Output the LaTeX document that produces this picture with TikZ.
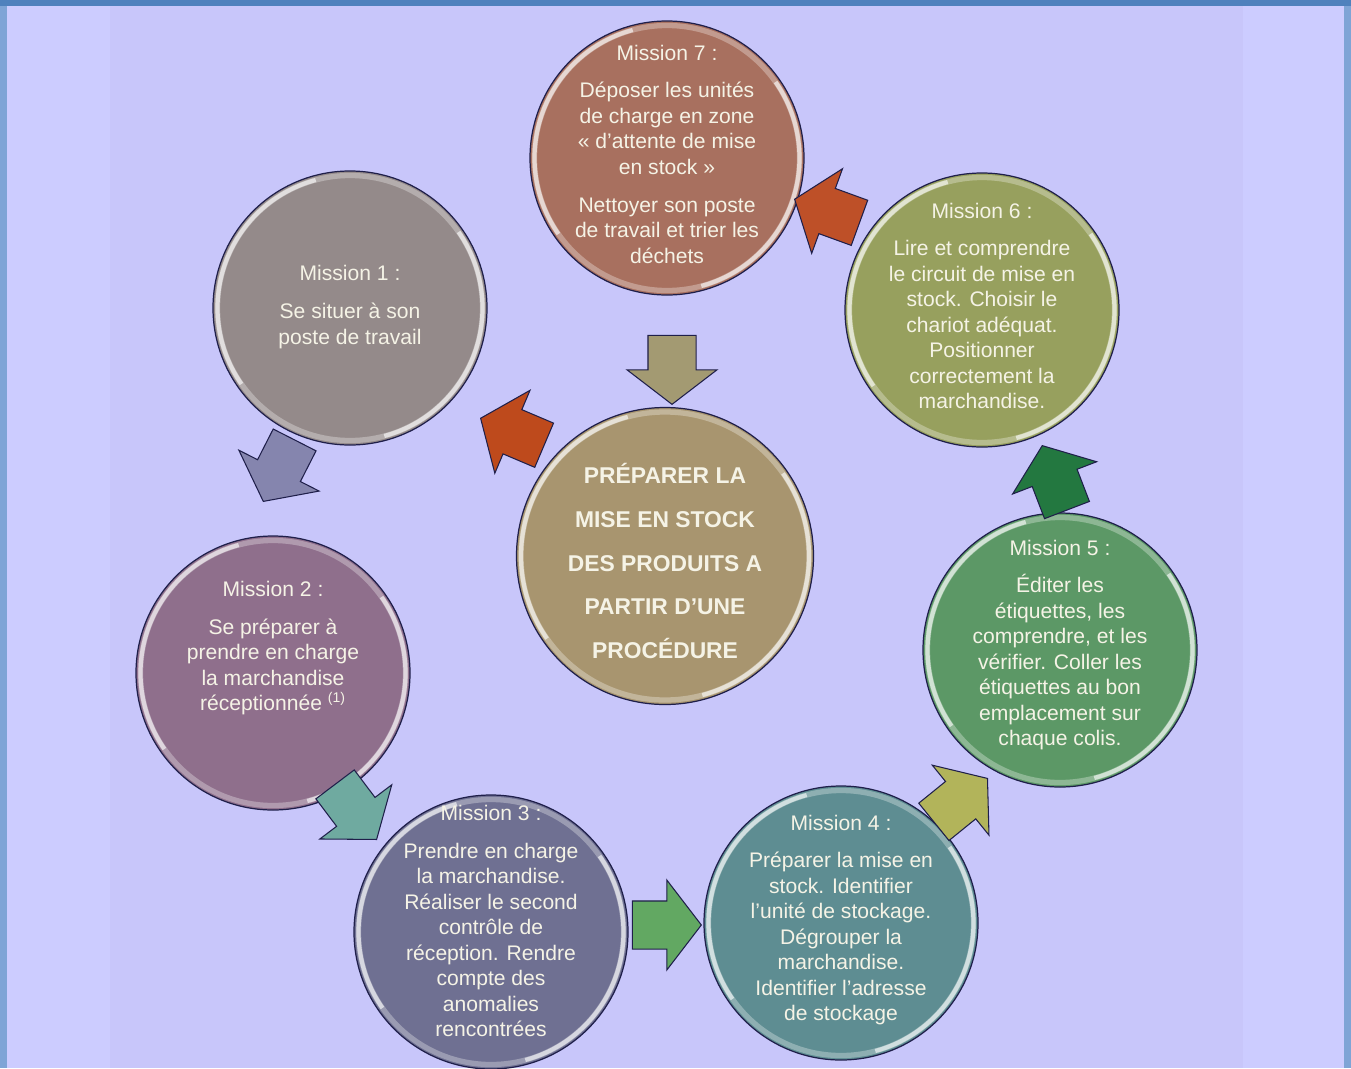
\documentclass[tikz,border=0pt]{standalone}
\usepackage{fontspec}
\setmainfont{Liberation Sans}
\usetikzlibrary{shapes.arrows}

\definecolor{bgout}{HTML}{CCCCFF}
\definecolor{bgin}{HTML}{C8C6FA}
\definecolor{frametop}{HTML}{4F81BD}
\definecolor{frameside}{HTML}{7FA4D6}
\definecolor{edge}{HTML}{1F1F4A}
\definecolor{txtcol}{HTML}{F5F3E6}
\definecolor{m1col}{HTML}{948A8A}
\definecolor{m2col}{HTML}{8F6F8C}
\definecolor{m3col}{HTML}{6F7092}
\definecolor{m4col}{HTML}{5E8D92}
\definecolor{m5col}{HTML}{5C9866}
\definecolor{m6col}{HTML}{97A05E}
\definecolor{m7col}{HTML}{A8705F}
\definecolor{ccol}{HTML}{A8956F}
\definecolor{a1col}{HTML}{8585AE}
\definecolor{a2col}{HTML}{6FAAA0}
\definecolor{a3col}{HTML}{62A862}
\definecolor{a4col}{HTML}{B2B45A}
\definecolor{a5col}{HTML}{237840}
\definecolor{a6col}{HTML}{BE5028}
\definecolor{a7col}{HTML}{A39A72}
\definecolor{a8col}{HTML}{BE4A1C}

\tikzset{
  disc/.style={circle, draw=edge, line width=0.7pt, minimum size=2*#1, inner sep=0pt,
    path picture={
      \draw[white, opacity=0.3, line width=3pt] (path picture bounding box.center) circle (#1-0.09cm);
      \draw[white, opacity=0.6, line width=2.4pt] (path picture bounding box.center) ++(105:#1-0.09cm) arc[start angle=105, end angle=215, radius=#1-0.09cm];
      \draw[white, opacity=0.6, line width=2.4pt] (path picture bounding box.center) ++(-75:#1-0.09cm) arc[start angle=-75, end angle=35, radius=#1-0.09cm];
    }},
  blockarr/.style={single arrow, draw=edge, line width=0.6pt, inner xsep=0pt, inner ysep=0.47cm,
    minimum height=1.38cm, single arrow head extend=0.42cm,
    single arrow tip angle=105, anchor=tip},
  mtext/.style={text=txtcol, align=center, inner sep=0pt, font=\fontsize{12}{14.5}\selectfont},
  ctext/.style={mtext, font=\fontsize{13}{25}\selectfont\bfseries},
}

\begin{document}
\begin{tikzpicture}
\def\rdisc{2.74cm} % radius of the mission circles

% Page background and frame
\useasboundingbox (0,0) rectangle (27.02,-21.36);
\clip (0,0) rectangle (27.02,-21.36);
\fill[bgout] (0,0) rectangle (27.02,-21.36);
\fill[bgin] (2.20,-0.12) rectangle (24.86,-21.36);
\fill[frameside] (0,0) rectangle (0.14,-21.36);
\fill[frameside] (26.88,0) rectangle (27.02,-21.36);
\fill[frametop] (0,0) rectangle (27.02,-0.12);

% Circles
\node[disc=\rdisc, fill=m7col] (m7) at (13.34, -3.16) {};
\node[disc=\rdisc, fill=m1col] (m1) at (7.00, -6.16) {};
\node[disc=\rdisc, fill=m6col] (m6) at (19.64, -6.20) {};
\node[disc=2.97cm, fill=ccol] (mc) at (13.30, -11.12) {};
\node[disc=\rdisc, fill=m2col] (m2) at (5.46, -13.46) {};
\node[disc=\rdisc, fill=m5col] (m5) at (21.20, -13.00) {};
\node[disc=\rdisc, fill=m3col] (m3) at (9.82, -18.64) {};
\node[disc=\rdisc, fill=m4col] (m4) at (16.82, -18.46) {};

% Texts
\node[mtext] (t7) at (13.34, -3.08) {Mission 7 :\\[7pt]D\'eposer les unit\'es\\de charge en zone\\« d’attente de  mise\\en stock  »\\[7pt]Nettoyer son poste\\de travail et trier les\\d\'echets};
\node[mtext] (t1) at (7.00, -6.14) {Mission 1 :\\[7pt]Se situer \`a son\\poste de travail};
\node[mtext] (t6) at (19.64, -6.12) {Mission 6 :\\[7pt]Lire  et comprendre\\le circuit de mise en\\stock.  Choisir le\\chariot ad\'equat.\\Positionner\\correctement la\\marchandise.};
\node[ctext] (tc) at (13.30, -11.22) {PR\'EPARER LA\\MISE EN STOCK\\DES PRODUITS  A\\PARTIR D’UNE\\PROC\'EDURE};
\node[mtext] (t2) at (5.46, -12.96) {Mission 2 :\\[7pt]Se pr\'eparer \`a\\prendre en charge\\la marchandise\\r\'eceptionn\'ee \textsuperscript{(1)}};
\node[mtext] (t5) at (21.20, -12.90) {Mission 5 :\\[7pt]\'Editer les\\\'etiquettes,  les\\comprendre, et les\\v\'erifier. Coller les\\\'etiquettes  au bon\\emplacement sur\\chaque colis.};
\node[mtext] (t3) at (9.82, -18.42) {Mission 3 :\\[7pt]Prendre en charge\\la marchandise.\\R\'ealiser le second\\contr\^ole de\\r\'eception. Rendre\\compte  des\\anomalies\\rencontr\'ees};
\node[mtext] (t4) at (16.82, -18.40) {Mission 4 :\\[7pt]Pr\'eparer la mise en\\stock.  Identifier\\l’unit\'e  de stockage.\\D\'egrouper la\\marchandise.\\Identifier  l’adresse\\de stockage};

% Arrows between the circles
\node[blockarr, fill=a7col, rotate=-90] (a7) at (13.44, -8.10) {};
\node[blockarr, fill=a8col, rotate=157] (a8) at (9.60, -8.36) {};
\node[blockarr, fill=a1col, rotate=-117] (a1) at (5.26, -10.04) {};
\node[blockarr, fill=a2col, rotate=-53] (a2) at (7.54, -16.80) {};
\node[blockarr, fill=a3col, rotate=0] (a3) at (14.04, -18.50) {};
\node[blockarr, fill=a4col, rotate=39] (a4) at (19.76, -15.56) {};
\node[blockarr, fill=a5col, rotate=111] (a5) at (20.84, -8.90) {};
\node[blockarr, fill=a6col, rotate=160] (a6) at (15.88, -3.98) {};
\end{tikzpicture}
\end{document}
